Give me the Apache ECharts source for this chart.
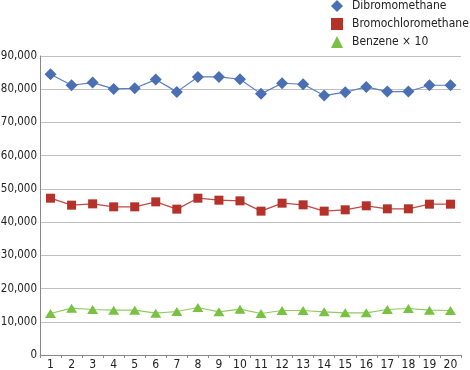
<!DOCTYPE html>
<html><head><meta charset="utf-8">
<script src="https://cdn.jsdelivr.net/npm/echarts@6/dist/echarts.min.js"></script>
<style>html,body{margin:0;padding:0;background:#fff}#c{width:470px;height:370px}</style>
</head><body><div id="c"></div>
<script>
const categories = ['1','2','3','4','5','6','7','8','9','10','11','12','13','14','15','16','17','18','19','20'];
const dibromomethane = [84500,81200,82000,80100,80300,82900,79200,83700,83700,83000,78600,81800,81500,78100,79100,80700,79300,79300,81200,81200];
const bromochloromethane = [47200,45100,45500,44600,44600,46100,43900,47200,46600,46400,43300,45700,45200,43300,43700,44900,44000,44000,45400,45400];
const benzeneX10 = [12500,14100,13700,13500,13500,12600,13100,14300,13000,13800,12500,13400,13400,13000,12700,12700,13700,14000,13500,13400];
const seriesNames = ['Dibromomethane','Bromochloromethane','Benzene \u00d7 10'];

const FONT = "'Liberation Sans Narrow','DejaVu Sans Condensed',sans-serif";
const chart = echarts.init(document.getElementById('c'), null, {renderer:'canvas'});
chart.setOption({
  animation:false,
  grid:{left:40, right:9, top:56, bottom:15, containLabel:false, outerBoundsMode:'none'},
  legend:{
    orient:'vertical', left:331, top:0, padding:0, itemGap:6, itemWidth:12, itemHeight:12,
    textStyle:{fontFamily:FONT, fontSize:12, color:'#222', padding:[0,0,0,4]},
    data:[
      {name:seriesNames[0], icon:'diamond'},
      {name:seriesNames[1], icon:'rect'},
      {name:seriesNames[2], icon:'triangle'}
    ]
  },
  xAxis:{
    type:'category', data:categories, boundaryGap:true,
    axisLine:{lineStyle:{color:'#888', width:1}},
    axisTick:{show:true, length:3, lineStyle:{color:'#888'}},
    axisLabel:{fontFamily:FONT, fontSize:12, color:'#222', margin:4, interval:0}
  },
  yAxis:{
    type:'value', min:0, max:90000, interval:10000,
    axisLine:{show:true, lineStyle:{color:'#888'}},
    axisTick:{show:false},
    splitLine:{lineStyle:{color:'#c0c0c0', width:1}},
    axisLabel:{fontFamily:FONT, fontSize:11.5, color:'#222', margin:3,
      formatter:v=>v.toLocaleString('en-US')}
  },
  series:[
    {name:seriesNames[0], type:'line', data:dibromomethane, symbol:'diamond', symbolSize:12,
     itemStyle:{color:'#4a70b3'}, lineStyle:{color:'#5a7fc0', width:1.2}},
    {name:seriesNames[1], type:'line', data:bromochloromethane, symbol:'rect', symbolSize:9,
     itemStyle:{color:'#b5322a'}, lineStyle:{color:'#c04a42', width:1.2}},
    {name:seriesNames[2], type:'line', data:benzeneX10, symbol:'triangle', symbolSize:[11,9],
     itemStyle:{color:'#7ac143'}, lineStyle:{color:'#8fcc60', width:1.2}}
  ]
});
</script></body></html>
